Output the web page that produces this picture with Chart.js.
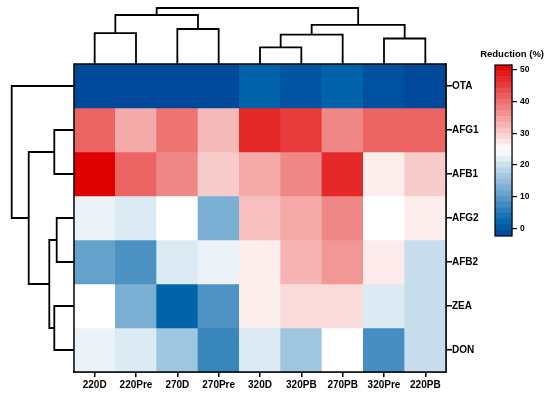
<!DOCTYPE html>
<html><head><meta charset="utf-8">
<script src="https://cdn.jsdelivr.net/npm/chart.js@4"></script>
<style>
html,body{margin:0;padding:0;background:#fff;}
#wrap{position:relative;width:550px;height:399px;background:#fff;}
canvas{position:absolute;left:0;top:0;}
</style></head><body>
<div id="wrap">
<canvas id="heat" width="550" height="399"></canvas>
<canvas id="dtop" width="550" height="399"></canvas>
<canvas id="dleft" width="550" height="399"></canvas>
<canvas id="cbar" width="550" height="399"></canvas>
</div>
<script>
// ---- data ----
const columns = ['220D','220Pre','270D','270Pre','320D','320PB','270PB','320Pre','220PB'];
const rowNames = ['OTA','AFG1','AFB1','AFG2','AFB2','ZEA','DON'];
const OTA  = [-2.2, -2.2, -2.2, -2.2, 1.4, -0.5, 1.4, -1.0, -2.2];
const AFG1 = [41, 33.6, 39.4, 32, 47.2, 45.2, 37.3, 41, 41];
const AFB1 = [51.6, 41, 37.3, 30, 33.6, 37.3, 47.2, 26.4, 30];
const AFG2 = [22.8, 21.4, 24.6, 12.7, 31.4, 33.6, 37.3, 24.6, 26.4];
const AFB2 = [10.6, 8.4, 21.4, 22.8, 26.4, 32.5, 35.7, 26.7, 19.6];
const ZEA  = [24.6, 12.7, 1.6, 8.6, 26.4, 28.3, 28.3, 21.4, 19.6];
const DON  = [22.8, 21.4, 16, 6.6, 21.4, 16, 24.6, 7.9, 19.6];
const rowValues = [OTA, AFG1, AFB1, AFG2, AFB2, ZEA, DON];

const colorMin = -2.43, colorMax = 51.58;
const colorbarTicks = [0, 10, 20, 30, 40, 50];
const colorbarSteps = 30;

// dendrograms, hclust style: negative = leaf (1-based), positive = earlier merge (1-based)
const colMerge  = [[-5,-6],[-8,-9],[-7,1],[-1,-2],[-3,-4],[3,2],[4,5],[7,6]];
const colHeight = [16.7, 25.5, 29.3, 30.8, 35, 39.1, 49, 56];
const rowMerge  = [[-4,-5],[-2,-3],[-6,-7],[1,3],[2,4],[-1,5]];
const rowHeight = [17.3, 19.7, 19.7, 24.7, 45.3, 62.3];

// ---- helpers ----
const FONT = '"Liberation Sans", Arial, Helvetica, sans-serif';
const BLUE_DEEP=[0,70,153], BLUE=[0,100,170], WHITE=[255,255,255], RED=[224,0,0];
function lerp(a,b,t){return a.map((v,i)=>Math.round(v+(b[i]-v)*t));}
function colorFor(v){
  const mid=(colorMin+colorMax)/2, half=(colorMax-colorMin)/2;
  let t=(v-mid)/half; t=Math.max(-1,Math.min(1,t));
  let c;
  if(t>=0) c=lerp(WHITE,RED,t);
  else { const s=-t; c = s<=0.85 ? lerp(WHITE,BLUE,s/0.85) : lerp(BLUE,BLUE_DEEP,(s-0.85)/0.15); }
  return 'rgb('+c[0]+','+c[1]+','+c[2]+')';
}
function dendroPaths(merge, heights){
  const pos=[], hts=[], paths=[];
  merge.forEach((m,i)=>{
    const kids = m.map(k => k<0 ? {p:-k-1+0.5, h:0} : {p:pos[k-1], h:hts[k-1]});
    const H = heights[i];
    paths.push([{p:kids[0].p,h:kids[0].h},{p:kids[0].p,h:H},{p:kids[1].p,h:H},{p:kids[1].p,h:kids[1].h}]);
    pos.push((kids[0].p+kids[1].p)/2); hts.push(H);
  });
  return paths;
}
const frame = {id:'frame', afterDatasetsDraw(chart, args, opts){
  const {ctx, chartArea:a} = chart;
  ctx.save(); ctx.strokeStyle='#000'; ctx.lineWidth=opts.width||1.5;
  ctx.strokeRect(a.left,a.top,a.right-a.left,a.bottom-a.top); ctx.restore();
}};
Chart.defaults.animation = false;
const base = {responsive:false, animation:false, events:[]};
const noPlug = {legend:{display:false}, tooltip:{enabled:false}};
const labelFont = {family:FONT, size:10, weight:'bold'};

// ---- heatmap ----
new Chart(document.getElementById('heat'), {
  type:'bar',
  data:{labels:columns, datasets: rowNames.map((r,i)=>({
    label:r, data:columns.map(()=>1), backgroundColor:rowValues[i].map(colorFor),
    borderWidth:0, barPercentage:1, categoryPercentage:1 }))},
  options:Object.assign({}, base, {
    layout:{padding:{left:74, top:64, right:64, bottom:0}},
    plugins:Object.assign({}, noPlug, {frame:{width:1.5}}),
    scales:{
      x:{stacked:true,
         grid:{display:true, offset:false, drawOnChartArea:false, drawTicks:true, tickLength:5, color:'#000', lineWidth:1.5},
         border:{display:true, color:'#000', width:1.5},
         ticks:{color:'#000', font:labelFont, padding:2, maxRotation:0, autoSkip:false},
         afterFit(s){s.height=27;}},
      y:{stacked:true, position:'right', reverse:true, min:0, max:7,
         grid:{display:true, drawOnChartArea:false, drawTicks:true, tickLength:6, color:'#000', lineWidth:1.5},
         border:{display:true, color:'#000', width:1.5},
         afterBuildTicks(s){s.ticks=rowNames.map((_,i)=>({value:i+0.5}));},
         ticks:{color:'#000', font:labelFont, padding:0, callback:(v,i)=>rowNames[i]},
         afterFit(s){s.width=40;}}
    }
  }),
  plugins:[frame]
});

// ---- top dendrogram ----
const lineDs = p => ({showLine:true, pointRadius:0, borderColor:'#000', borderWidth:1.8, clip:false, tension:0, borderJoinStyle:'miter', data:p});
new Chart(document.getElementById('dtop'), {
  type:'scatter',
  data:{datasets: dendroPaths(colMerge,colHeight).map(p=>lineDs(p.map(q=>({x:q.p, y:q.h}))))},
  options:Object.assign({}, base, {
    layout:{padding:{left:74, right:104, top:0, bottom:335}},
    plugins:noPlug,
    scales:{x:{type:'linear', min:0, max:9, display:false}, y:{type:'linear', min:0, max:64, display:false}}
  })
});

// ---- left dendrogram ----
new Chart(document.getElementById('dleft'), {
  type:'scatter',
  data:{datasets: dendroPaths(rowMerge,rowHeight).map(p=>lineDs(p.map(q=>({x:q.h, y:q.p}))))},
  options:Object.assign({}, base, {
    layout:{padding:{left:0, right:476, top:64, bottom:27}},
    plugins:noPlug,
    scales:{x:{type:'linear', min:0, max:74, reverse:true, display:false}, y:{type:'linear', min:0, max:7, reverse:true, display:false}}
  })
});

// ---- colour bar ----
const bands = Array.from({length:colorbarSteps}, (_,i)=>[
  colorMin+(colorMax-colorMin)*i/colorbarSteps, colorMin+(colorMax-colorMin)*(i+1)/colorbarSteps]);
new Chart(document.getElementById('cbar'), {
  type:'bar',
  data:{labels:['Reduction (%)'], datasets: bands.map(b=>({data:[b], backgroundColor:colorFor((b[0]+b[1])/2),
    xAxisID:'x', yAxisID:'y', grouped:false, barPercentage:1, categoryPercentage:1, borderWidth:0}))},
  options:Object.assign({}, base, {
    layout:{padding:{left:466, right:6, top:49, bottom:163}},
    plugins:Object.assign({}, noPlug, {frame:{width:1.2},
      title:{display:true, text:'Reduction (%)', align:'end', color:'#000',
             font:{family:FONT, size:9.5, weight:'bold', lineHeight:1.2}, padding:{top:0, bottom:4.6}}}),
    scales:{
      x:{display:false},
      y:{position:'right', min:colorMin, max:colorMax,
         afterBuildTicks(s){s.ticks=colorbarTicks.map(v=>({value:v}));},
         grid:{display:true, drawOnChartArea:false, drawTicks:true, tickLength:5, color:'#000', lineWidth:1.2},
         border:{display:true, color:'#000', width:1.2},
         ticks:{color:'#000', padding:3, font:{family:FONT, size:8.5, weight:'bold'}},
         afterFit(s){s.width=32;}},
      spacer:{type:'linear', axis:'y', position:'left', display:true, min:0, max:1,
              ticks:{display:false}, grid:{display:false}, border:{display:false},
              afterFit(s){s.width=29;}}
    }
  }),
  plugins:[frame]
});
</script>
</body></html>
